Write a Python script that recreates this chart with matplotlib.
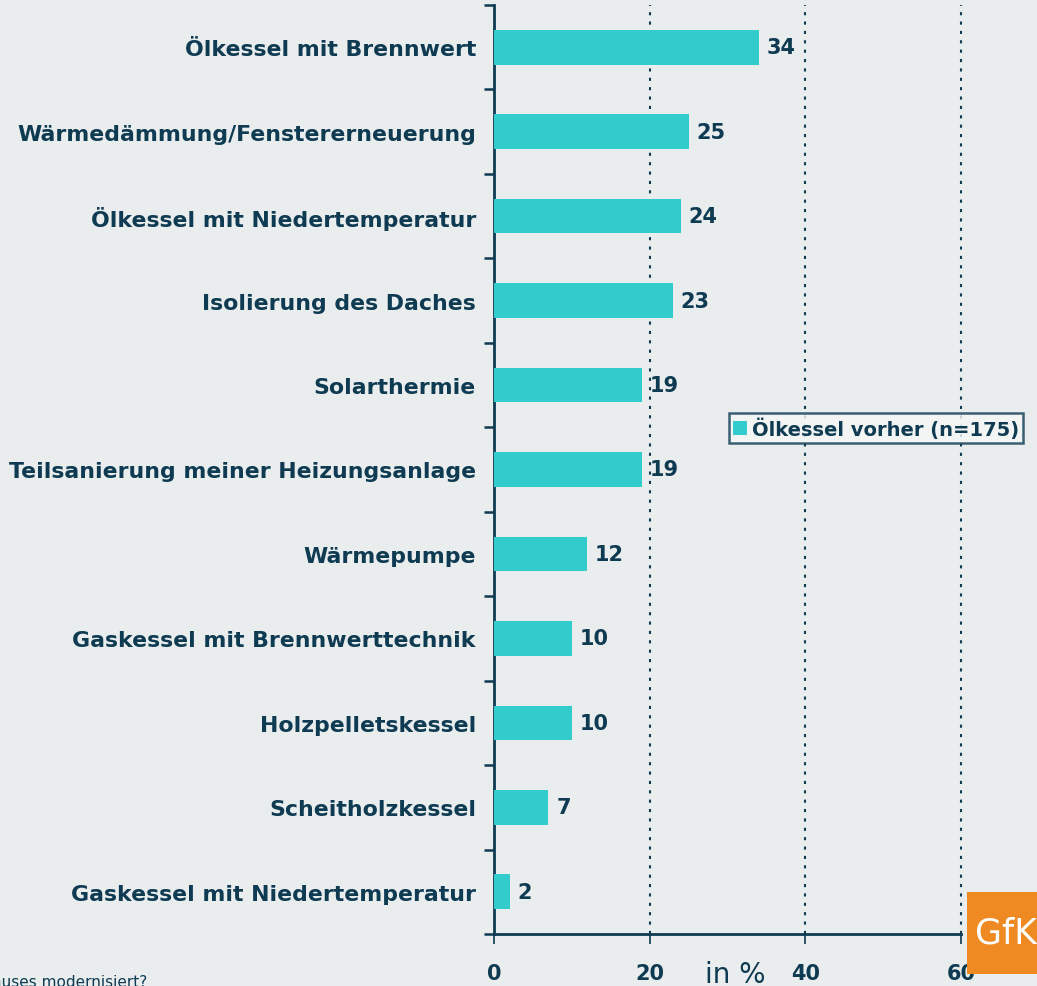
import numpy as np
import matplotlib.pyplot as plt
from matplotlib.patches import Rectangle

# Werte aus der GfK-Grafik (Ölkessel vorher, n=175), von oben nach unten
massnahmen = [
    "Ölkessel mit Brennwert",
    "Wärmedämmung/Fenstererneuerung",
    "Ölkessel mit Niedertemperatur",
    "Isolierung des Daches",
    "Solarthermie",
    "Teilsanierung meiner Heizungsanlage",
    "Wärmepumpe",
    "Gaskessel mit Brennwerttechnik",
    "Holzpelletskessel",
    "Scheitholzkessel",
    "Gaskessel mit Niedertemperatur",
]
anteile = [34, 25, 24, 23, 19, 19, 12, 10, 10, 7, 2]
x_ticks = [0, 20, 40, 60]

bg = "#E9EDEE"
navy = "#0E3A52"
teal = "#33CCCC"

plt.rcParams['font.family'] = ['DejaVu Sans']

fig = plt.figure(figsize=(10.37, 9.87), dpi=100, facecolor=bg)
ax = fig.add_axes([494 / 1037, 1 - 935 / 987, (961 - 494) / 1037, (935 - 6) / 987])
ax.set_facecolor(bg)

y = np.arange(len(massnahmen))
ax.barh(y, anteile, height=0.41, color=teal, zorder=3, label="Ölkessel vorher (n=175)")
for yi, v in zip(y, anteile):
    ax.text(v + 1.0, yi, str(v), va="center", ha="left", fontsize=15,
            fontweight="bold", color=navy, zorder=4)

ax.set_xlim(0, 60)
ax.set_ylim(len(massnahmen) - 0.5, -0.5)

# y-Achse: Striche an den Kategoriegrenzen
ax.set_yticks(y)
ax.set_yticklabels(massnahmen, fontsize=15.8, fontweight="bold", color=navy)
ax.tick_params(axis="y", which="major", length=0, pad=13)
ax.set_yticks(np.arange(-0.5, len(massnahmen)), minor=True)
ax.tick_params(axis="y", which="minor", length=7, width=1.8, color=navy, direction="out")

ax.set_xticks(x_ticks)
ax.set_xticklabels([str(t) for t in x_ticks], fontsize=15, fontweight="bold", color=navy)
ax.tick_params(axis="x", length=7, width=1.2, color=navy, direction="out", pad=14)

for t in x_ticks[1:]:
    ax.axvline(t, color=navy, lw=1.5, linestyle=(0, (1.5, 3)), zorder=2, clip_on=False)

for s in ["top", "right"]:
    ax.spines[s].set_visible(False)
ax.spines["left"].set_color(navy)
ax.spines["left"].set_linewidth(2)
ax.spines["bottom"].set_color(navy)
ax.spines["bottom"].set_linewidth(2)

leg = fig.legend(loc="center", bbox_to_anchor=(876 / 1037, 1 - 429 / 987),
                 fontsize=14, frameon=True, fancybox=False, handlelength=0.75,
                 handleheight=0.75, handletextpad=0.25, borderpad=0.2,
                 borderaxespad=0)
leg.get_frame().set_edgecolor(navy)
leg.get_frame().set_linewidth(1.8)
leg.get_frame().set_facecolor("#F6F8F8")
for txt in leg.get_texts():
    txt.set_color(navy)
    txt.set_fontweight("bold")

fig.text(735 / 1037, 1 - 975 / 987, "in %", fontsize=20, color=navy,
         ha="center", va="center")
fig.text(147 / 1037, 1 - 983 / 987, "Womit haben Sie die Heizung Ihres Hauses modernisiert?",
         fontsize=11, color=navy, ha="right", va="center")

# GfK-Logo unten rechts
fig.patches.append(Rectangle((967 / 1037, 1 - 975 / 987), 80 / 1037, 82 / 987,
                             transform=fig.transFigure, facecolor="#EF8A22",
                             edgecolor="none", zorder=5))
fig.text(975 / 1037, 1 - 934 / 987, "GfK", fontsize=25, color="white",
         ha="left", va="center", zorder=6)

fig.savefig("out.png", dpi=100, facecolor=bg)
